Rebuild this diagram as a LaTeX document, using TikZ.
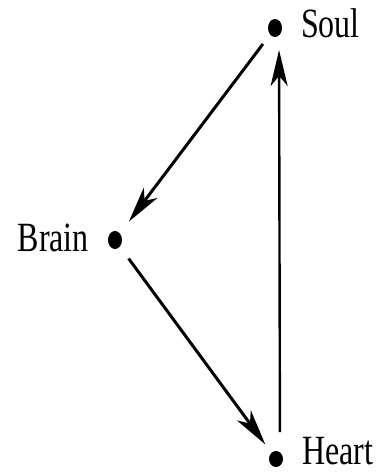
\documentclass[tikz,border=0pt]{standalone}
\usepackage{fontspec}
\usepackage{graphicx}
\setmainfont{Liberation Serif}
\usetikzlibrary{arrows.meta,shapes.geometric}
\tikzset{
  dotnode/.style={ellipse,fill=black,inner sep=0pt,minimum width=14pt,minimum height=18pt},
  lbl/.style={inner sep=0pt,font=\fontsize{32}{36}\selectfont},
  conn/.style={line width=3pt,-{Stealth[length=36pt,width=17pt,inset=10pt]}}
}
\newcommand{\tall}[1]{\scalebox{1}[1.3]{#1}}
\begin{document}
\begin{tikzpicture}[x=1pt,y=-1pt]
\useasboundingbox (0,0) rectangle (380,474);
\node[dotnode] (soul) at (275,28) {};
\node[dotnode] (brain) at (115,240) {};
\node[dotnode,minimum height=16pt] (heart) at (276,459) {};
\node[lbl,anchor=base west] (soullbl) at (301,37) {\tall{Soul}};
\node[lbl,anchor=base east] (brainlbl) at (89,251) {\tall{Brain}};
\node[lbl,anchor=base west] (heartlbl) at (302,464) {\tall{Heart}};
\draw[conn,shorten <=20pt,shorten >=23pt] (soul.center) -- (brain.center);
\draw[conn,shorten <=23pt,shorten >=18pt] (brain.center) -- (heart.center);
\draw[conn,line width=2.4pt,shorten <=27pt,shorten >=22pt] ([xshift=4pt]heart.center) -- ([xshift=4pt]soul.center);
\end{tikzpicture}
\end{document}
